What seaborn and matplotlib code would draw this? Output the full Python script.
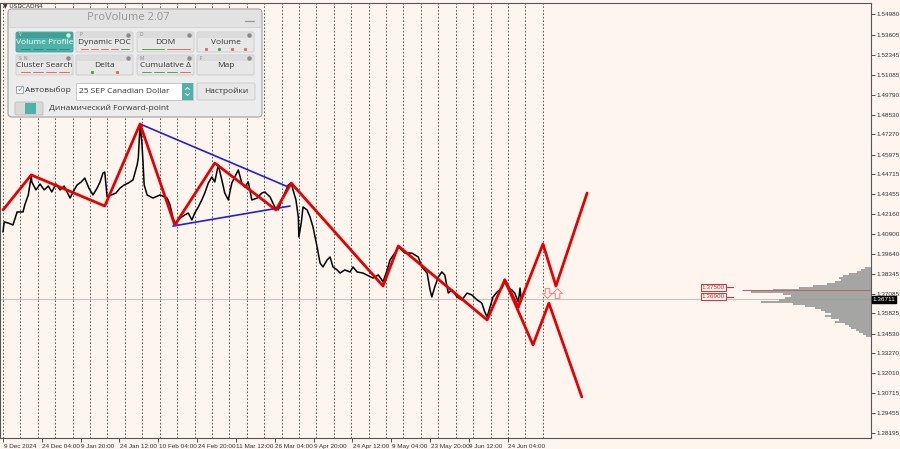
import numpy as np
import matplotlib
matplotlib.use("Agg")
import matplotlib.pyplot as plt
import matplotlib.transforms as mtransforms
from matplotlib.patches import FancyBboxPatch, Rectangle
from matplotlib.path import Path
import seaborn as sns

# ---------------- data ----------------
price_bar = [0, 2, 9, 17, 24, 34, 37, 43, 48, 49, 56, 63, 70, 77, 83, 90, 97, 104, 109, 114,
             121, 126, 133, 139, 146, 153, 160, 165, 170, 173, 177, 184, 192, 199, 206, 213, 221,
             228, 230, 233, 236, 238, 240, 245, 255, 267, 279, 284, 289, 292, 296, 301, 309, 315,
             321, 326, 332, 338, 343, 349, 355, 360, 366, 372, 377, 383, 389, 394, 400, 406, 411,
             417, 423, 432, 440, 445, 454, 462, 468, 474, 479, 485, 490, 493, 498, 502, 503, 507,
             510, 517, 522, 527, 534, 539, 544, 551, 556, 561, 568, 573, 581, 590, 595, 602, 612,
             629, 638, 644, 646, 653, 658, 666, 673, 683, 695, 706, 712, 721, 726, 729, 734, 740,
             746, 751, 757, 763, 772, 780, 789, 797, 806, 814, 819, 823, 828, 833, 840, 848, 853,
             859, 865, 870, 876, 879, 881]
price_close = [1.4103, 1.4167, 1.4160, 1.4148, 1.4231, 1.4231, 1.4276, 1.4340, 1.4461, 1.4423,
               1.4372, 1.4410, 1.4372, 1.4397, 1.4359, 1.4410, 1.4372, 1.4397, 1.4359, 1.4320,
               1.4372, 1.4404, 1.4423, 1.4448, 1.4384, 1.4340, 1.4384, 1.4423, 1.4480, 1.4487,
               1.4327, 1.4340, 1.4352, 1.4384, 1.4404, 1.4416, 1.4436, 1.4532, 1.4576, 1.4788,
               1.4679, 1.4551, 1.4404, 1.4340, 1.4320, 1.4340, 1.4320, 1.4276, 1.4192, 1.4160,
               1.4167, 1.4192, 1.4212, 1.4224, 1.4180, 1.4224, 1.4263, 1.4308, 1.4352, 1.4416,
               1.4455, 1.4423, 1.4532, 1.4436, 1.4352, 1.4308, 1.4416, 1.4455, 1.4500, 1.4416,
               1.4391, 1.4423, 1.4308, 1.4320, 1.4352, 1.4359, 1.4327, 1.4263, 1.4244, 1.4308,
               1.4352, 1.4404, 1.4416, 1.4372, 1.4308, 1.4199, 1.4071, 1.4160, 1.4263, 1.4244,
               1.4199, 1.4135, 1.4007, 1.3904, 1.3879, 1.3924, 1.3943, 1.3879, 1.3860, 1.3840,
               1.3860, 1.3847, 1.3879, 1.3847, 1.3840, 1.3808, 1.3828, 1.3796, 1.3783, 1.3860,
               1.3924, 1.3968, 1.4007, 1.3968, 1.3968, 1.3943, 1.3879, 1.3840, 1.3732, 1.3687,
               1.3751, 1.3815, 1.3847, 1.3828, 1.3712, 1.3732, 1.3687, 1.3668, 1.3712, 1.3700,
               1.3668, 1.3648, 1.3591, 1.3559, 1.3623, 1.3687, 1.3719, 1.3744, 1.3783, 1.3744,
               1.3732, 1.3712, 1.3655, 1.3744, 1.3671]

zz_bar = [0, 48, 173, 233, 292, 360, 464, 490, 646, 672, 823, 853, 876]
zz_price = [1.4244, 1.4468, 1.4269, 1.4794, 1.4148, 1.4544, 1.4244, 1.4416, 1.3757, 1.4013,
            1.3540, 1.3796, 1.3623]
fa_bar = [876, 918, 940, 993]
fa_price = [1.3623, 1.4026, 1.3757, 1.4352]
fb_bar = [853, 901, 928, 984]
fb_price = [1.3796, 1.3380, 1.3648, 1.3047]

tl_upper_bar = [233, 485]
tl_upper_price = [1.4794, 1.4391]
tl_lower_bar = [289, 488]
tl_lower_price = [1.4141, 1.4269]

date_ticks = [0, 66, 132, 198, 264, 330, 396, 462, 528, 594, 660, 726, 792, 858]
date_labels = ["9 Dec 2024", "24 Dec 04:00", "9 Jan 20:00", "24 Jan 12:00", "10 Feb 04:00",
               "24 Feb 20:00", "11 Mar 12:00", "26 Mar 04:00", "9 Apr 20:00", "24 Apr 12:00",
               "9 May 04:00", "23 May 20:00", "9 Jun 12:00", "24 Jun 04:00"]
price_ticks = [1.54980, 1.53605, 1.52345, 1.51085, 1.49790, 1.48530, 1.47270, 1.45975, 1.44715,
               1.43455, 1.42160, 1.40900, 1.39640, 1.38345, 1.37085, 1.35825, 1.34530, 1.33270,
               1.32010, 1.30715, 1.29455, 1.28195]
current_price = 1.36711
level_prices = [1.37500, 1.36900]
poc_price = 1.3732
signal_bar = [925, 942]
signal_price = [1.3712, 1.3712]

vp_levels = [1.3872, 1.3860, 1.3847, 1.3834, 1.3821, 1.3808, 1.3796, 1.3783, 1.3770, 1.3757,
             1.3744, 1.3732, 1.3719, 1.3706, 1.3693, 1.3680, 1.3668, 1.3655, 1.3642, 1.3629,
             1.3616, 1.3604, 1.3591, 1.3578, 1.3565, 1.3552, 1.3540, 1.3527, 1.3514, 1.3501,
             1.3488, 1.3476, 1.3463, 1.3450, 1.3437]
vp_volume = [6, 10, 14, 22, 28, 32, 30, 36, 44, 58, 72, 98, 120, 88, 80, 86, 92, 110, 78, 66,
             56, 50, 46, 40, 46, 40, 32, 36, 26, 22, 20, 15, 12, 8, 5]

# ---------------- style ----------------
BG = "#FDF5EE"
sns.set_theme(style="white")
plt.rcParams["font.family"] = ["DejaVu Sans"]
AXF = ["Liberation Sans Narrow", "Liberation Sans", "DejaVu Sans"]

fig = plt.figure(figsize=(9, 4.49), dpi=100, facecolor=BG)
ax = fig.add_axes([0.0, 1 - 437.5 / 449, 871 / 900, (437.5 - 3) / 449])
ax.set_facecolor(BG)
ax.set_xlim(-5.1, 1475.6)
ax.set_ylim(1.27876, 1.55684)

# weekly dotted grid
grid_bars = np.arange(0, 925, 29.6)
ax.vlines(grid_bars, 1.27876, 1.55684, colors="#444444", linestyles=(0, (2, 2.2)),
          linewidth=0.6, zorder=1)

# current price line
ax.axhline(current_price, color="#c4c4c4", lw=0.8, zorder=1)

# price
sns.lineplot(x=price_bar, y=price_close, ax=ax, color="black", linewidth=1.1,
             sort=False, estimator=None, zorder=3)
# trend lines
sns.lineplot(x=tl_upper_bar, y=tl_upper_price, ax=ax, color="#1f1fe0", linewidth=1.2,
             sort=False, estimator=None, zorder=4)
sns.lineplot(x=tl_lower_bar, y=tl_lower_price, ax=ax, color="#1f1fe0", linewidth=1.2,
             sort=False, estimator=None, zorder=4)
# zigzag + projections
for xs, ys in [(zz_bar, zz_price), (fa_bar, fa_price), (fb_bar, fb_price)]:
    sns.lineplot(x=xs, y=ys, ax=ax, color="#e60000", linewidth=2.0, sort=False,
                 estimator=None, zorder=5)

# hollow signal arrows
down = Path([(-0.28, 0.6), (0.28, 0.6), (0.28, 0.0), (0.6, 0.0), (0.0, -0.6),
             (-0.6, 0.0), (-0.28, 0.0), (-0.28, 0.6)], closed=True)
up = Path([(-0.28, -0.6), (0.28, -0.6), (0.28, 0.0), (0.6, 0.0), (0.0, 0.6),
           (-0.6, 0.0), (-0.28, 0.0), (-0.28, -0.6)], closed=True)
ax.plot(signal_bar[0], signal_price[0], marker=down, ms=7, mfc="none", mec="#ef8c8c",
        mew=0.8, zorder=6)
ax.plot(signal_bar[1], signal_price[1], marker=up, ms=7, mfc="none", mec="#ef8c8c",
        mew=0.8, zorder=6)

# axes styling
for s in ax.spines.values():
    s.set_color("#555555")
    s.set_linewidth(0.8)
ax.yaxis.tick_right()
ax.set_yticks(price_ticks)
ax.set_yticklabels([f"{p:.5f}" for p in price_ticks], family=AXF)
ax.tick_params(axis="y", direction="out", length=3, width=0.6, colors="#333333",
               labelsize=4.6, pad=1.2, right=True, left=False)
ax.set_xticks(date_ticks)
ax.set_xticklabels(date_labels, ha="left", family=AXF)
ax.tick_params(axis="x", direction="out", length=3, width=0.6, colors="#333333",
               labelsize=4.6, pad=1.5, bottom=True)
offset = mtransforms.ScaledTranslation(0.5 / 100, 0, fig.dpi_scale_trans)
for lbl in ax.get_xticklabels():
    lbl.set_transform(lbl.get_transform() + offset)
ax.set_xlabel("")
ax.set_ylabel("")

# volume profile on twin axis (grows from right edge)
ax2 = ax.twiny()
ax2.set_xlim(871, 0)
ax2.barh(vp_levels, vp_volume, height=0.00135, left=0, color="#9c9c9c", alpha=0.9,
         linewidth=0, zorder=2)
ax2.hlines(poc_price, 0, 129, color="#b36a6a", lw=0.8, zorder=3)
ax2.set_xticks([])
for s in ax2.spines.values():
    s.set_visible(False)
ax2.set_ylim(ax.get_ylim())

# level labels
btr = mtransforms.blended_transform_factory(ax.transAxes, ax.transData)
for lp in level_prices:
    ax.text(0.8055, lp, f"{lp:.5f}", transform=btr, fontsize=4.6, color="#d03030",
            ha="left", va="center", zorder=7, family=AXF,
            bbox=dict(boxstyle="square,pad=0.15", fc=BG, ec="#d03030", lw=0.7))
    ax.plot([0.835, 0.842], [lp, lp], transform=btr, color="#d03030", lw=0.8, zorder=7)

# current price box
ax.text(1.002, current_price, f"{current_price:.5f}", transform=btr, fontsize=4.6,
        color="white", ha="left", va="center", zorder=8, clip_on=False, family=AXF,
        bbox=dict(boxstyle="square,pad=0.12", fc="black", ec="black"))

# ---------------- UI overlay (ProVolume panel) ----------------
ui = fig.add_axes([0, 0, 1, 1], zorder=10)
ui.set_xlim(0, 900)
ui.set_ylim(449, 0)
ui.axis("off")
ui.patch.set_alpha(0)
UIF = ["Open Sans", "DejaVu Sans"]
TEAL = "#4db3a8"

ui.text(3, 5.5, "\u25bc USDCADH4", fontsize=4.2, color="#333333", va="center")

ui.add_patch(FancyBboxPatch((8, 9), 254, 108, boxstyle="round,pad=0,rounding_size=4",
                            fc="#ececec", ec="#a9a9a9", lw=0.9))
ui.add_patch(Rectangle((9, 10), 252, 17, fc="#e2e2e2", ec="none"))
ui.plot([9, 261], [27, 27], color="#cfcfcf", lw=0.6)
ui.text(128, 18, "ProVolume 2.07", fontsize=8, color="#959595", ha="center",
        va="center", family=UIF)
ui.plot([245, 254], [21, 21], color="#999999", lw=0.9)

cols = [16, 76, 137, 197]
rows = [32, 55]
bw, bh = 57, 20
names = [["Volume Profile", "Dynamic POC", "DOM", "Volume"],
         ["Cluster Search", "Delta", "Cumulative \u0394", "Map"]]
tags = [["V", "P", "D", ""], ["S  N", "", "M", "F"]]
marks = [[("dash", ["#2f8a80"] * 4), ("dash", ["#e06a6a"] * 4 + ["#4da64d"]),
          ("long", ["#4da64d", "#e06a6a"]), ("dot", ["#e06a6a", "#4da64d", "#e06a6a", "#e06a6a"])],
         [("dash", ["#e06a6a"] * 4), ("dot", ["#4da64d", "#e06a6a"]),
          ("dash", ["#4da64d", "#4da64d", "#4da64d", "#e06a6a"]), ("none", [])]]
for r, y0 in enumerate(rows):
    for c, x0 in enumerate(cols):
        active = (r == 0 and c == 0)
        fc = TEAL if active else "#e7e7e7"
        ui.add_patch(FancyBboxPatch((x0, y0), bw, bh, boxstyle="round,pad=0,rounding_size=1.5",
                                    fc=fc, ec="#c9c9c9" if not active else "#3f9f95", lw=0.6))
        ui.add_patch(Rectangle((x0 + 0.5, y0 + 0.5), bw - 1, 5,
                               fc="#3fa196" if active else "#dcdcdc", ec="none"))
        ui.text(x0 + 3, y0 + 3, tags[r][c], fontsize=3.3, color="#d0efec" if active else "#7a7a7a",
                va="center", family=UIF)
        ui.plot([x0 + bw - 5], [y0 + 3], marker="o", ms=2.2,
                color="#d0efec" if active else "#8a8a8a")
        ui.text(x0 + bw / 2, y0 + 10.5, names[r][c], fontsize=6, ha="center", va="center",
                color="white" if active else "#333333", family=UIF)
        kind, clrs = marks[r][c]
        n = len(clrs)
        if n:
            seg = (bw - 6) / n
            for k, cc in enumerate(clrs):
                xa = x0 + 3 + k * seg
                if kind == "dot":
                    ui.plot([xa + seg / 2], [y0 + 17], marker="s", ms=1.2, color=cc)
                else:
                    ui.plot([xa + 1.5, xa + seg - 1.5], [y0 + 17, y0 + 17], color=cc, lw=0.7)

# row 3
ui.add_patch(Rectangle((16, 86), 7, 7, fc="white", ec="#9a9a9a", lw=0.6))
ui.text(16.5, 89, "\u2713", fontsize=7, color=TEAL, va="center", family=["DejaVu Sans"])
ui.text(25, 90, "Автовыбор", fontsize=6, color="#333333", va="center", family=UIF)
ui.add_patch(Rectangle((76, 83), 117, 17, fc="white", ec="#c0c0c0", lw=0.6))
ui.text(79, 91.5, "25 SEP Canadian Dollar", fontsize=6, color="#333333", va="center",
        family=UIF)
ui.add_patch(Rectangle((182, 83), 11, 17, fc=TEAL, ec="none"))
ui.plot([185.5, 187.5, 189.5], [89.5, 87.5, 89.5], color="white", lw=0.7)
ui.plot([185.5, 187.5, 189.5], [93.5, 95.5, 93.5], color="white", lw=0.7)
ui.add_patch(FancyBboxPatch((197, 83), 58, 17, boxstyle="round,pad=0,rounding_size=1.5",
                            fc="#e7e7e7", ec="#c9c9c9", lw=0.6))
ui.text(226, 91.5, "Настройки", fontsize=6, ha="center", va="center", color="#333333",
        family=UIF)
# row 4
ui.add_patch(FancyBboxPatch((15, 102), 28, 13, boxstyle="round,pad=0,rounding_size=1.5",
                            fc="#d9d9d9", ec="#bdbdbd", lw=0.6))
ui.add_patch(Rectangle((25, 103), 11, 11, fc=TEAL, ec="none"))
ui.text(49, 108.5, "Динамический Forward-point", fontsize=6, color="#333333", va="center",
        family=UIF)

fig.savefig("out.png", dpi=100, facecolor=BG)
